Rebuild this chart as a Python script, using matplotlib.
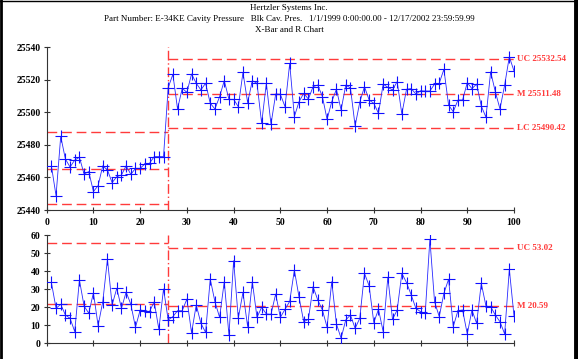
import matplotlib
matplotlib.use("Agg")
import matplotlib.pyplot as plt
from matplotlib.lines import Line2D

plt.rcParams["font.family"] = ["Liberation Serif", "DejaVu Serif"]

# subgroup numbers 1..100, split in two limit segments at 26
subgroups = list(range(1, 101))
split_at = 26

# X-bar values
xbar = [
    25467.2, 25448.8, 25485.3, 25471.3, 25466.4, 25470.7, 25472.4, 25462.1, 25463.6, 25451.3,
    25455.0, 25467.2, 25464.6, 25456.8, 25460.5, 25461.5, 25467.2, 25461.9, 25465.6, 25465.6,
    25468.3, 25468.7, 25472.8, 25472.8, 25472.8, 25515.2, 25523.4, 25502.1, 25514.8, 25512.3,
    25523.6, 25517.9, 25513.8, 25517.9, 25505.6, 25502.1, 25509.7, 25519.5, 25508.0, 25508.0,
    25503.5, 25524.6, 25506.0, 25519.5, 25517.9, 25493.3, 25517.9, 25492.7, 25511.3, 25511.1,
    25503.5, 25530.1, 25497.4, 25506.6, 25511.7, 25508.2, 25515.8, 25516.8, 25509.7, 25495.7,
    25506.6, 25514.2, 25501.5, 25516.8, 25515.0, 25491.7, 25506.3, 25515.8, 25507.6, 25505.6,
    25499.4, 25517.4, 25515.4, 25513.8, 25518.9, 25499.0, 25514.2, 25514.6, 25511.3, 25513.3,
    25513.1, 25513.1, 25517.4, 25517.9, 25526.5, 25504.5, 25500.4, 25507.6, 25507.6, 25518.3,
    25514.6, 25517.4, 25503.9, 25497.0, 25525.0, 25512.7, 25502.1, 25516.8, 25534.2, 25525.4,
]

# Range values
ranges = [
    33.9, 19.4, 21.7, 15.7, 13.9, 6.5, 35.2, 20.7, 16.7, 28.1,
    9.8, 23.1, 46.7, 21.3, 30.6, 19.4, 28.5, 21.7, 8.9, 18.5,
    18.1, 17.6, 23.1, 7.8, 30.2, 13.0, 14.8, 18.1, 18.1, 24.6,
    5.8, 21.3, 11.1, 6.1, 35.7, 23.1, 14.4, 34.3, 4.6, 45.9,
    13.9, 28.3, 9.3, 34.3, 14.4, 20.0, 16.3, 16.1, 27.4, 14.4,
    18.9, 23.3, 40.7, 25.6, 12.0, 13.3, 31.5, 24.1, 18.5, 8.9,
    34.3, 10.7, 2.8, 13.0, 15.7, 8.3, 13.9, 38.9, 31.9, 11.5,
    18.9, 6.5, 36.7, 13.3, 18.5, 38.9, 33.7, 26.9, 19.4, 17.6,
    16.7, 57.8, 23.1, 14.8, 27.8, 35.6, 9.3, 18.1, 18.5, 5.2,
    18.5, 11.1, 33.3, 20.7, 20.4, 15.7, 12.0, 5.2, 41.1, 15.2,
]

# control limits (first segment, second segment)
xbar_limits_1 = [25487.9, 25465.3, 25443.5]
xbar_limits_2 = [25532.54, 25511.48, 25490.42]
xbar_labels_2 = ["UC 25532.54", "M 25511.48", "LC 25490.42"]
r_limits_1 = [55.7, 21.6]
r_limits_2 = [53.02, 20.59]
r_labels_2 = ["UC 53.02", "M 20.59"]

title_lines = [
    "Hertzler Systems Inc.",
    "Part Number: E-34KE Cavity Pressure   Blk Cav. Pres.   1/1/1999 0:00:00.00 - 12/17/2002 23:59:59.99",
    "X-Bar and R Chart",
]

W, H = 578, 359
RED = "#ff3b3b"
BLUE = "#2828ff"


def px_box(left, top, right, bottom):
    return [left / W, 1 - bottom / H, (right - left) / W, (bottom - top) / H]


def style_axes(ax):
    for side in ["top", "right"]:
        ax.spines[side].set_visible(False)
    for side in ["left", "bottom"]:
        ax.spines[side].set_color("#333333")
        ax.spines[side].set_linewidth(0.8)
    ax.tick_params(direction="inout", length=5, width=0.8, color="#333333",
                   labelsize=7, pad=2)
    ax.set_xlim(0, 100)
    ax.set_xticks(range(0, 101, 10))
    for lbl in ax.get_yticklabels():
        lbl.set_fontweight("bold")
    ax.patch.set_alpha(0)


def draw_limits(ax, first, second, labels):
    for val in first:
        ax.plot([0, split_at], [val, val], color=RED, lw=1.0, dashes=(7, 3.5))
    for val, txt in zip(second, labels):
        ax.plot([split_at, 100], [val, val], color=RED, lw=1.0, dashes=(7, 3.5))
        ax.text(100.7, val, txt, color=RED, fontsize=6.5, fontweight="bold",
                va="center", ha="left", clip_on=False)
    ax.axvline(split_at, color=RED, lw=1.0, dashes=(7, 2, 1, 2))


def draw_series(ax, values):
    ax.plot(subgroups, values, color=BLUE, lw=0.6, marker="+", ms=9,
            mew=0.8, mec="#1010ff", zorder=3)


def main():
    fig = plt.figure(figsize=(W / 100, H / 100), dpi=100)

    ax1 = fig.add_axes(px_box(46.7, 47.3, 514, 210))
    draw_limits(ax1, xbar_limits_1, xbar_limits_2, xbar_labels_2)
    draw_series(ax1, xbar)
    ax1.set_ylim(25440, 25540)
    ax1.set_yticks(range(25440, 25541, 20))
    style_axes(ax1)
    ax1.tick_params(axis="x", pad=3)
    for lbl in ax1.get_xticklabels():
        lbl.set_fontweight("bold")

    ax2 = fig.add_axes(px_box(46.7, 235.3, 514, 343.3))
    draw_limits(ax2, r_limits_1, r_limits_2, r_labels_2)
    draw_series(ax2, ranges)
    ax2.set_ylim(0, 60)
    ax2.set_yticks(range(0, 61, 10))
    style_axes(ax2)
    ax2.set_xticklabels([])

    for k, line in enumerate(title_lines):
        fig.text(289 / W, 1 - (8 + 11 * k) / H, line, ha="center", va="center",
                 fontsize=6.5)

    # window frame
    fig.add_artist(Line2D([1 / W, 1 / W], [0, 1], color="black", lw=2))
    fig.add_artist(Line2D([575.5 / W, 575.5 / W], [0, 1], color="black", lw=3.5))
    fig.add_artist(Line2D([0, 1], [1 - 0.5 / H, 1 - 0.5 / H], color="black", lw=1))

    fig.savefig("out.png", dpi=100)
    plt.close(fig)


if __name__ == "__main__":
    main()
